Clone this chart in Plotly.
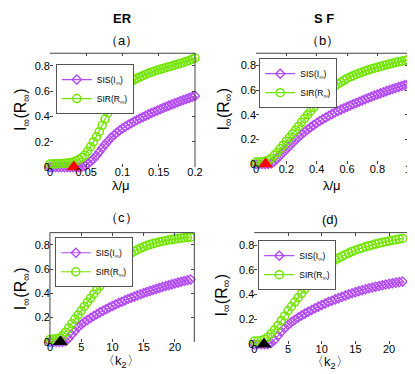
import plotly.graph_objects as go

# ---------------- data ----------------
# panel (a) ER, x = lambda/mu
a_x = [0, 0.004, 0.008, 0.012, 0.016, 0.02, 0.024, 0.028, 0.032, 0.036, 0.04, 0.044, 0.048, 0.052,
       0.056, 0.06, 0.064, 0.068, 0.072, 0.076, 0.08, 0.084, 0.088, 0.092, 0.096, 0.1, 0.104, 0.108,
       0.112, 0.116, 0.12, 0.124, 0.128, 0.132, 0.136, 0.14, 0.144, 0.148, 0.152, 0.156, 0.16, 0.164,
       0.168, 0.172, 0.176, 0.18, 0.184, 0.188, 0.192, 0.196, 0.2]
a_sis = [0, 0, 0, 0, 0, 0, 0, 0, 0, 0, 0, 0.003, 0.01, 0.025, 0.045, 0.065, 0.09, 0.12, 0.15, 0.178,
         0.205, 0.23, 0.252, 0.272, 0.29, 0.306, 0.32, 0.334, 0.347, 0.36, 0.372, 0.384, 0.395, 0.406,
         0.417, 0.428, 0.438, 0.448, 0.458, 0.467, 0.477, 0.486, 0.495, 0.504, 0.513, 0.522, 0.53,
         0.539, 0.547, 0.555, 0.563]
a_sir = [0.025, 0.025, 0.026, 0.027, 0.028, 0.03, 0.032, 0.035, 0.04, 0.048, 0.06, 0.075, 0.095, 0.125,
         0.16, 0.2, 0.24, 0.28, 0.33, 0.38, 0.43, 0.48, 0.53, 0.57, 0.6, 0.625, 0.645, 0.662, 0.677,
         0.69, 0.702, 0.713, 0.723, 0.733, 0.742, 0.75, 0.758, 0.766, 0.773, 0.78, 0.787, 0.794, 0.8,
         0.807, 0.813, 0.82, 0.827, 0.835, 0.843, 0.852, 0.862]
a_thr = [0.033]

# panel (b) SF, x = lambda/mu
b_x = [0, 0.02, 0.04, 0.06, 0.08, 0.1, 0.12, 0.14, 0.16, 0.18, 0.2, 0.22, 0.24, 0.26, 0.28, 0.3, 0.32,
       0.34, 0.36, 0.38, 0.4, 0.42, 0.44, 0.46, 0.48, 0.5, 0.52, 0.54, 0.56, 0.58, 0.6, 0.62, 0.64, 0.66,
       0.68, 0.7, 0.72, 0.74, 0.76, 0.78, 0.8, 0.82, 0.84, 0.86, 0.88, 0.9, 0.92, 0.94, 0.96, 0.98, 1.0]
b_sis = [0, 0, 0, 0, 0, 0.005, 0.02, 0.045, 0.07, 0.095, 0.12, 0.145, 0.17, 0.195, 0.218, 0.24, 0.26,
         0.28, 0.298, 0.316, 0.333, 0.349, 0.364, 0.378, 0.392, 0.405, 0.418, 0.43, 0.442, 0.453, 0.464,
         0.475, 0.486, 0.496, 0.506, 0.516, 0.526, 0.536, 0.546, 0.556, 0.565, 0.574, 0.583, 0.592,
         0.601, 0.61, 0.618, 0.626, 0.634, 0.641, 0.648]
b_sir = [0.015, 0.016, 0.018, 0.022, 0.03, 0.045, 0.07, 0.095, 0.125, 0.155, 0.185, 0.215, 0.245, 0.275,
         0.305, 0.34, 0.37, 0.4, 0.43, 0.46, 0.49, 0.52, 0.545, 0.57, 0.595, 0.615, 0.635, 0.65, 0.665,
         0.68, 0.695, 0.707, 0.718, 0.728, 0.738, 0.747, 0.756, 0.764, 0.772, 0.779, 0.786, 0.793, 0.8,
         0.806, 0.812, 0.818, 0.824, 0.83, 0.836, 0.842, 0.848]
b_thr = [0.063]

# panel (c) ER, x = <k2>
c_x = [0, 0.5, 1, 1.5, 2, 2.5, 3, 3.5, 4, 4.5, 5, 5.5, 6, 6.5, 7, 7.5, 8, 8.5, 9, 9.5, 10, 10.5, 11,
       11.5, 12, 12.5, 13, 13.5, 14, 14.5, 15, 15.5, 16, 16.5, 17, 17.5, 18, 18.5, 19, 19.5, 20, 20.5,
       21, 21.5, 22, 22.5]
c_sis = [0, 0, 0, 0, 0, 0.005, 0.03, 0.06, 0.09, 0.12, 0.143, 0.163, 0.18, 0.197, 0.213, 0.228, 0.243,
         0.257, 0.27, 0.283, 0.296, 0.308, 0.32, 0.331, 0.342, 0.353, 0.363, 0.373, 0.383, 0.393, 0.402,
         0.411, 0.42, 0.428, 0.436, 0.444, 0.452, 0.46, 0.467, 0.474, 0.481, 0.488, 0.495, 0.501, 0.507,
         0.513]
c_sir = [0.02, 0.022, 0.025, 0.032, 0.05, 0.08, 0.115, 0.15, 0.188, 0.222, 0.257, 0.292, 0.327, 0.36,
         0.395, 0.43, 0.46, 0.49, 0.52, 0.55, 0.58, 0.615, 0.645, 0.672, 0.695, 0.715, 0.732, 0.747,
         0.76, 0.772, 0.783, 0.793, 0.802, 0.81, 0.817, 0.823, 0.829, 0.834, 0.839, 0.843, 0.847, 0.851,
         0.854, 0.857, 0.86, 0.863]
c_thr = [1.67]

# panel (d) SF, x = <k2>
d_x = [0, 0.5, 1, 1.5, 2, 2.5, 3, 3.5, 4, 4.5, 5, 5.5, 6, 6.5, 7, 7.5, 8, 8.5, 9, 9.5, 10, 10.5, 11,
       11.5, 12, 12.5, 13, 13.5, 14, 14.5, 15, 15.5, 16, 16.5, 17, 17.5, 18, 18.5, 19, 19.5, 20, 20.5,
       21, 21.5, 22]
d_sis = [0, 0, 0, 0, 0, 0.01, 0.035, 0.068, 0.1, 0.13, 0.155, 0.178, 0.198, 0.215, 0.232, 0.247, 0.262,
         0.276, 0.29, 0.303, 0.316, 0.328, 0.34, 0.351, 0.362, 0.372, 0.382, 0.392, 0.402, 0.411, 0.42,
         0.428, 0.436, 0.444, 0.451, 0.458, 0.464, 0.47, 0.476, 0.482, 0.487, 0.492, 0.497, 0.501, 0.505]
d_sir = [0.025, 0.026, 0.03, 0.04, 0.058, 0.085, 0.115, 0.152, 0.19, 0.228, 0.27, 0.305, 0.34, 0.375,
         0.41, 0.445, 0.48, 0.515, 0.545, 0.575, 0.6, 0.623, 0.643, 0.662, 0.68, 0.695, 0.709, 0.722,
         0.735, 0.747, 0.758, 0.768, 0.777, 0.786, 0.794, 0.801, 0.808, 0.815, 0.821, 0.827, 0.833,
         0.838, 0.843, 0.848, 0.853]
d_thr = [1.43]

y_ticks = [0, 0.2, 0.4, 0.6, 0.8]
y_ticklabels = ["0", "0.2", "0.4", "0.6", "0.8"]
ab_xticks = [[0, 0.05, 0.1, 0.15, 0.2], [0, 0.2, 0.4, 0.6, 0.8, 1]]
ab_xticklabels = [["0", "0.05", "0.1", "0.15", "0.2"], ["0", "0.2", "0.4", "0.6", "0.8", "1"]]
k_ticks = [0, 5, 10, 15, 20]

sis_name = "SIS(I<sub>∞</sub>)"
sir_name = "SIR(R<sub>∞</sub>)"

PURPLE = "#B44CF2"
GREEN = "#72E600"
FONT = "Liberation Sans, Arial, sans-serif"
W, H = 415, 374

panels = [
    dict(x=a_x, sis=a_sis, sir=a_sir, thr=a_thr, tc="#FF0000", xr=[0, 0.2], ticks=ab_xticks[0],
         tl=ab_xticklabels[0], dom_x=(40, 189), dom_y=(46, 161.7), leg=(46, 57)),
    dict(x=b_x, sis=b_sis, sir=b_sir, thr=b_thr, tc="#FF0000", xr=[0, 1], ticks=ab_xticks[1],
         tl=ab_xticklabels[1], dom_x=(251.7, 407.5), dom_y=(46, 158.5), leg=(255, 51)),
    dict(x=c_x, sis=c_sis, sir=c_sir, thr=c_thr, tc="#000000", xr=[0, 23.1], ticks=k_ticks,
         tl=[str(t) for t in k_ticks], dom_x=(40, 188.3), dom_y=(228.3, 339.3), leg=(45, 233)),
    dict(x=d_x, sis=d_sis, sir=d_sir, thr=d_thr, tc="#000000", xr=[0, 23.05], ticks=k_ticks,
         tl=[str(t) for t in k_ticks], dom_x=(250, 409.5), dom_y=(228.3, 341.7), leg=(254, 236)),
]

fig = go.Figure()
layout = dict(width=W, height=H, margin=dict(l=0, r=0, t=0, b=0), paper_bgcolor="white",
              plot_bgcolor="white", font=dict(family=FONT, size=11, color="#000"), showlegend=True)
shapes = []
for i, p in enumerate(panels):
    n = "" if i == 0 else str(i + 1)
    xa, ya = "x" + n, "y" + n
    lg = "legend" + n
    fig.add_trace(go.Scatter(x=p["x"], y=p["sis"], mode="lines+markers", name=sis_name,
                             xaxis=xa, yaxis=ya, legend=lg, cliponaxis=False,
                             line=dict(color=PURPLE, width=1.2),
                             marker=dict(symbol="diamond-open", size=7, color=PURPLE,
                                         line=dict(width=1.4, color=PURPLE))))
    fig.add_trace(go.Scatter(x=p["x"], y=p["sir"], mode="lines+markers", name=sir_name,
                             xaxis=xa, yaxis=ya, legend=lg, cliponaxis=False,
                             line=dict(color=GREEN, width=1.2),
                             marker=dict(symbol="circle-open", size=8, color=GREEN,
                                         line=dict(width=1.5, color=GREEN))))
    fig.add_trace(go.Scatter(x=p["thr"], y=[0] * len(p["thr"]), mode="markers", showlegend=False,
                             xaxis=xa, yaxis=ya, cliponaxis=False,
                             marker=dict(symbol="triangle-up", size=13, color=p["tc"])))
    x0, x1 = p["dom_x"]
    yt, yb = p["dom_y"]
    layout["xaxis" + n] = dict(domain=[x0 / W, x1 / W], range=p["xr"], anchor=ya,
                               tickvals=p["ticks"], ticktext=p["tl"], ticks="inside", ticklen=3,
                               tickcolor="#444", mirror="ticks", showline=False, showgrid=False,
                               zeroline=False, tickfont=dict(size=11, family=FONT),
                               ticklabelstandoff=-3)
    layout["yaxis" + n] = dict(domain=[1 - yb / H, 1 - yt / H], range=[0, 0.9], anchor=xa,
                               tickvals=y_ticks, ticktext=y_ticklabels, ticks="inside", ticklen=3,
                               tickcolor="#444", mirror="ticks", showline=False, showgrid=False,
                               zeroline=False, tickfont=dict(size=11, family=FONT),
                               ticklabelstandoff=-1)
    lx, ly = p["leg"]
    layout[lg] = dict(x=lx / W, y=1 - ly / H, xanchor="left", yanchor="top", bgcolor="white",
                      bordercolor="#555", borderwidth=1, font=dict(size=8.5, family=FONT),
                      itemwidth=30, tracegroupgap=0)
    ref_x, ref_y = xa + " domain", ya + " domain"
    shapes.append(dict(type="line", xref=ref_x, yref=ref_y, x0=0, x1=1, y0=1, y1=1,
                       line=dict(color="#444", width=1)))
    shapes.append(dict(type="line", xref=ref_x, yref=ref_y, x0=1, x1=1, y0=0, y1=1,
                       line=dict(color="#444", width=1)))
    if i == 2:
        shapes.append(dict(type="line", xref=ref_x, yref=ref_y, x0=0, x1=0, y0=0, y1=1,
                           line=dict(color="#444", width=1)))

layout["shapes"] = shapes

ylab = "I<sub>∞</sub>(R<sub>∞</sub>)"
annos = [
    (115, 11, "<b>ER</b>", 13, 0), (322, 11, "<b>S F</b>", 13, 0),
    (113, 33, "（a）", 13, 0), (320, 33, "（b）", 13, 0),
    (113, 213, "（c）", 13, 0), (328, 215, "(d)", 13, 0),
    (113, 180, "λ/μ", 13, 0), (330, 180, "λ/μ", 13, 0),
    (113, 359, "〈k<sub>2</sub>〉", 13, 0), (328, 360, "〈k<sub>2</sub>〉", 13, 0),
    (11, 103, ylab, 16, -90), (219, 103, ylab, 16, -90),
    (11, 285, ylab, 16, -90), (217, 292, ylab, 16, -90),
]
layout["annotations"] = [dict(x=ax / W, y=1 - ay / H, xref="paper", yref="paper", text=t,
                              showarrow=False, font=dict(size=s, family=FONT), textangle=ang,
                              xanchor="center", yanchor="middle") for ax, ay, t, s, ang in annos]

fig.update_layout(**layout)
fig.write_html("out.html")
